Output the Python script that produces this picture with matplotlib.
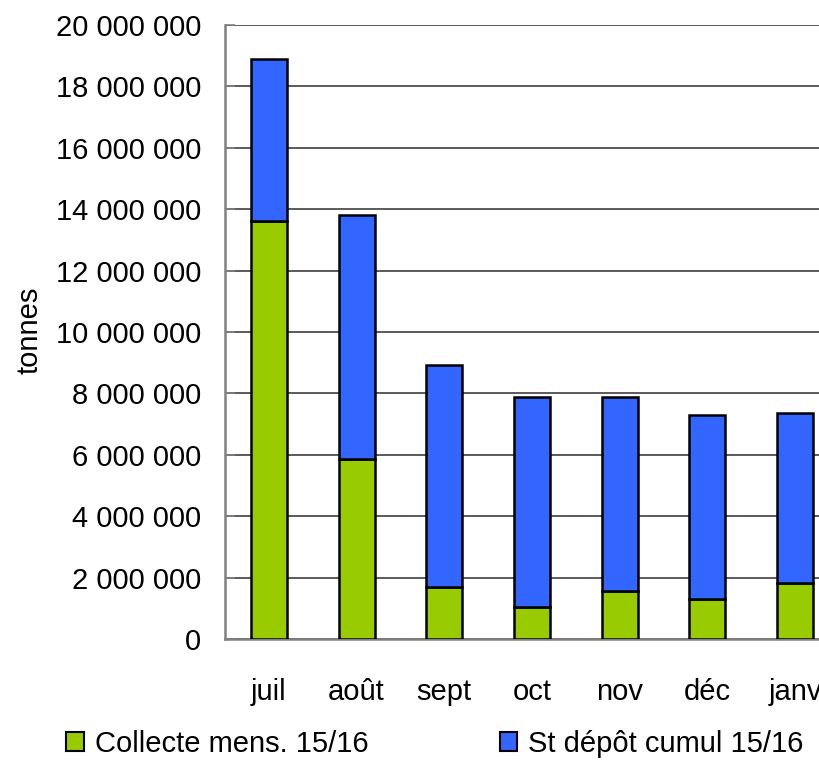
import matplotlib
matplotlib.use("Agg")
import matplotlib.pyplot as plt
from matplotlib.patches import Patch
from matplotlib.ticker import FuncFormatter

plt.rcParams["font.family"] = ["Liberation Sans", "DejaVu Sans"]

# Monthly values (tonnes)
months = ["juil", "août", "sept", "oct", "nov", "déc", "janv"]
collecte = [13620000, 5860000, 1680000, 1040000, 1560000, 1300000, 1820000]
stock = [5260000, 7950000, 7240000, 6850000, 6330000, 6000000, 5530000]

green = "#99CC00"
blue = "#3366FF"

fig = plt.figure(figsize=(8.2, 7.66), dpi=100)
# axis extends past the right edge, like the cropped original
ax = fig.add_axes([225 / 820, 127 / 766, 614 / 820, 614 / 766])

x = range(len(months))
ax.bar(x, collecte, width=0.41, color=green, edgecolor="black", linewidth=1.8, zorder=3)
ax.bar(x, stock, width=0.41, bottom=collecte, color=blue, edgecolor="black", linewidth=1.8, zorder=3)

ax.set_xlim(-0.5, 6.5)
ax.set_ylim(0, 20000000)
ax.set_yticks(range(0, 20000001, 2000000))
ax.yaxis.set_major_formatter(FuncFormatter(lambda v, p: f"{int(v):,}".replace(",", " ")))
ax.set_xticks(list(x))
ax.set_xticklabels(months)

ax.grid(axis="y", color="#404040", linewidth=1.2, zorder=0)
ax.set_axisbelow(True)
for side in ["top", "right"]:
    ax.spines[side].set_visible(False)
ax.spines["left"].set_color("#808080")
ax.spines["left"].set_linewidth(1.8)
ax.spines["bottom"].set_color("#808080")
ax.spines["bottom"].set_linewidth(1.8)

ax.tick_params(axis="y", direction="in", length=7, width=1.2, color="#808080",
               labelsize=21, pad=17)
ax.tick_params(axis="x", length=0, labelsize=21, pad=28)

fig.text(30 / 820, 1 - 330 / 766, "tonnes", rotation=90, fontsize=21,
         ha="center", va="center")

handles = [Patch(facecolor=green, edgecolor="black", linewidth=1.5),
           Patch(facecolor=blue, edgecolor="black", linewidth=1.5)]
fig.legend(handles, ["Collecte mens. 15/16", "St dépôt cumul 15/16"],
           loc="center", bbox_to_anchor=(435 / 820, 1 - 744 / 766), ncol=2,
           frameon=False, fontsize=21, handlelength=0.6, handleheight=0.6,
           handletextpad=0.38, columnspacing=4.5, borderpad=0)

fig.savefig("out.png", dpi=100)
